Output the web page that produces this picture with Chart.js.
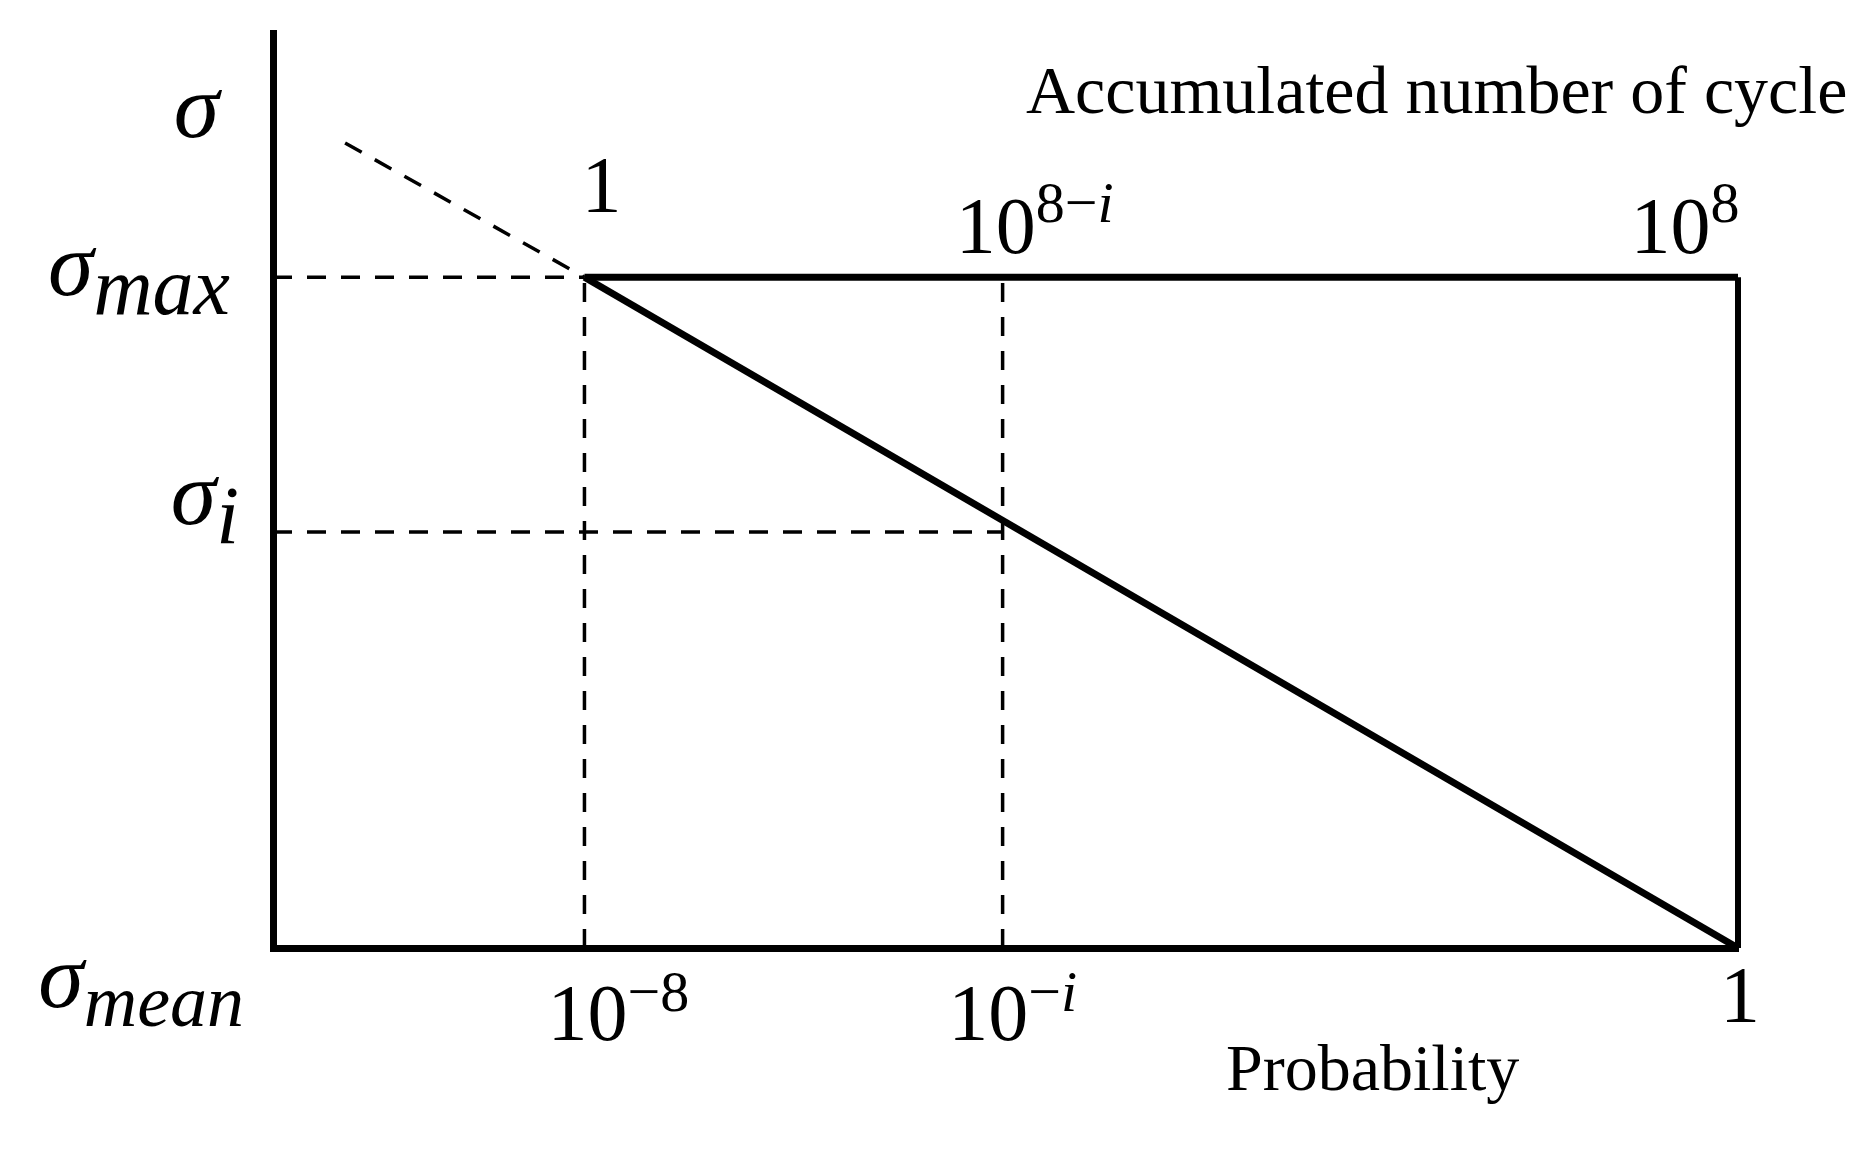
<!DOCTYPE html>
<html>
<head>
<meta charset="utf-8">
<script src="https://cdn.jsdelivr.net/npm/chart.js@4.4.0/dist/chart.umd.min.js"></script>
<style>
html, body { margin: 0; padding: 0; background: #fff; }
#wrap { width: 1865px; height: 1158px; }
</style>
</head>
<body>
<div id="wrap"><canvas id="grafico" width="1865" height="1158"></canvas></div>
<script>
// probability axis (bottom), as powers of ten
var probExp = [-8, -5.1, 0];
var probBase = ['10', '10', '1'];
var probSup = ['\u22128', '\u2212i', ''];

// accumulated number of cycles (top), as powers of ten
var cycleExp = [0, 2.9, 8];
var cycleBase = ['1', '10', '10'];
var cycleSup = ['', '8\u2212i', '8'];

// stress levels: sigma_mean, sigma_i, sigma_max
var sigmaVal = [0, 0.62, 1];
var sigmaSub = ['mean', 'i', 'max'];

// the stress / probability line and its dashed extension
var lineX = [-8, 0];
var lineY = [1, 0];
var extX = [-9.66, -8];
var extY = [1.2, 1];

// axis ranges
var xMin = -10.16, xMax = 0;
var yMin = 0, yMax = 1.364;

// label nudges (pixels): [dx from tick, dy from axis]
var botNudge = [[34, 92], [10, 92], [2, 74]];
var topNudge = [[17, -65], [32, -24], [-53, -24]];
var sideNudge = [[244, 59], [239, -8], [230, 18]];

var FONT = '"Liberation Serif", "Times New Roman", serif';

function pts(xs, ys) {
    var out = [];
    for (var i = 0; i < xs.length; i++) out.push({x: xs[i], y: ys[i]});
    return out;
}

function solid(data, w) {
    return {data: data, showLine: true, borderColor: '#000', borderWidth: w,
            pointRadius: 0, fill: false, clip: false, tension: 0};
}
function dashed(data) {
    return {data: data, showLine: true, borderColor: '#000', borderWidth: 3.5,
            borderDash: [19, 15], pointRadius: 0, fill: false, clip: false, tension: 0};
}

// split a string into runs, letters italic
function runs(str, size, rise) {
    var out = [];
    for (var i = 0; i < str.length; i++) {
        var c = str[i];
        var it = /[a-z]/.test(c);
        var last = out[out.length - 1];
        if (last && last.italic === it) last.text += c;
        else out.push({text: c, size: size, italic: it, rise: rise});
    }
    return out;
}

function drawParts(ctx, parts, x, y, align) {
    var total = 0;
    parts.forEach(function(p) {
        ctx.font = (p.italic ? 'italic ' : '') + p.size + 'px ' + FONT;
        p.w = ctx.measureText(p.text).width;
        total += p.w;
    });
    var cx = x;
    if (align === 'center') cx = x - total / 2;
    if (align === 'right') cx = x - total;
    ctx.textAlign = 'left';
    ctx.textBaseline = 'alphabetic';
    parts.forEach(function(p) {
        ctx.font = (p.italic ? 'italic ' : '') + p.size + 'px ' + FONT;
        ctx.fillText(p.text, cx, y - p.rise);
        cx += p.w;
    });
}

var labelPlugin = {
    id: 'labels',
    afterDraw: function(chart) {
        var ctx = chart.ctx;
        var sx = chart.scales.x, sx2 = chart.scales.x2, sy = chart.scales.y;
        var area = chart.chartArea;
        ctx.save();
        ctx.fillStyle = '#000';

        // bottom: probability
        for (var i = 0; i < probExp.length; i++) {
            var px = sx.getPixelForValue(probExp[i]) + botNudge[i][0];
            var parts = runs(probBase[i], 80, 0).concat(runs(probSup[i], 58, 29));
            drawParts(ctx, parts, px, area.bottom + botNudge[i][1], 'center');
        }
        // top: accumulated cycles
        var topY = sy.getPixelForValue(sigmaVal[2]);
        for (var j = 0; j < cycleExp.length; j++) {
            var qx = sx2.getPixelForValue(cycleExp[j]) + topNudge[j][0];
            var tp = runs(cycleBase[j], 80, 0).concat(runs(cycleSup[j], 58, 31));
            drawParts(ctx, tp, qx, topY + topNudge[j][1], 'center');
        }
        // left: stress levels
        for (var k = 0; k < sigmaVal.length; k++) {
            var py = sy.getPixelForValue(sigmaVal[k]) + sideNudge[k][1];
            var sp = [{text: '\u03c3', size: 92, italic: true, rise: 0},
                      {text: sigmaSub[k], size: k === 0 ? 74 : 82, italic: true, rise: -19}];
            drawParts(ctx, sp, sideNudge[k][0], py, 'right');
        }
        // axis titles
        drawParts(ctx, [{text: '\u03c3', size: 92, italic: true, rise: 0}], 219, 137, 'right');
        drawParts(ctx, [{text: 'Accumulated number of cycle', size: 68, italic: false, rise: 0}], 1026, 113, 'left');
        drawParts(ctx, [{text: 'Probability', size: 66, italic: false, rise: 0}], 1226, 1090, 'left');
        ctx.restore();
    }
};

var datos = {
    datasets: [
        solid(pts(lineX, lineY), 7),
        solid(pts([probExp[0], probExp[2]], [sigmaVal[2], sigmaVal[2]]), 7),
        solid(pts([probExp[2], probExp[2]], [sigmaVal[2], sigmaVal[0]]), 6),
        dashed(pts([xMin, probExp[0]], [sigmaVal[2], sigmaVal[2]])),
        dashed(pts([probExp[0], probExp[0]], [sigmaVal[0], sigmaVal[2]])),
        dashed(pts([probExp[1], probExp[1]], [sigmaVal[0], sigmaVal[2]])),
        dashed(pts([xMin, probExp[1]], [sigmaVal[1], sigmaVal[1]])),
        dashed(pts(extX, extY))
    ]
};

var hidden = {display: false, drawTicks: false};

var config = {
    type: 'scatter',
    data: datos,
    options: {
        responsive: false,
        animation: false,
        devicePixelRatio: 1,
        layout: {padding: {left: 273, right: 127, top: 33, bottom: 210}},
        plugins: {legend: {display: false}, tooltip: {enabled: false}},
        scales: {
            x: {type: 'linear', position: 'bottom', min: xMin, max: xMax,
                ticks: {display: false}, grid: hidden,
                border: {display: true, color: '#000', width: 7}},
            x2: {type: 'linear', position: 'top', min: xMin + 8, max: xMax + 8,
                 ticks: {display: false}, grid: hidden, border: {display: false}},
            y: {type: 'linear', position: 'left', min: yMin, max: yMax,
                ticks: {display: false}, grid: hidden,
                border: {display: true, color: '#000', width: 7}}
        }
    },
    plugins: [labelPlugin]
};

var myChart = new Chart(document.getElementById('grafico'), config);
</script>
</body>
</html>
